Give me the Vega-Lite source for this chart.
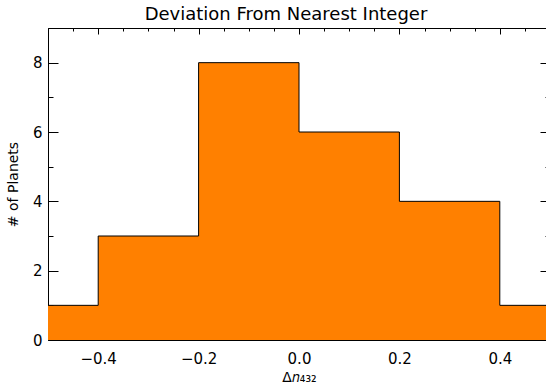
{
  "$schema": "https://vega.github.io/schema/vega-lite/v6.json",
  "autosize": "none",
  "padding": {"left": 48, "top": 28, "right": 0, "bottom": 50},
  "width": 502,
  "height": 312,
  "background": "white",
  "config": {
    "view": {"stroke": null},
    "font": "DejaVu Sans",
    "axis": {
      "domainColor": "black",
      "tickColor": "black",
      "labelColor": "black",
      "titleColor": "black",
      "labelFont": "DejaVu Sans",
      "titleFont": "DejaVu Sans",
      "labelFontSize": 15,
      "titleFontSize": 14,
      "titleFontWeight": "normal",
      "grid": false
    }
  },
  "title": {
    "text": "Deviation From Nearest Integer",
    "fontSize": 18,
    "fontWeight": "normal",
    "font": "DejaVu Sans",
    "color": "black",
    "offset": 4,
    "dx": -13
  },
  "data": {
    "values": [
      {"x": -0.5, "count": 1},
      {"x": -0.4, "count": 3},
      {"x": -0.2, "count": 8},
      {"x": 0.0, "count": 6},
      {"x": 0.2, "count": 4},
      {"x": 0.4, "count": 1},
      {"x": 0.5, "count": 1}
    ]
  },
  "layer": [
    {
      "mark": {"type": "area", "interpolate": "step-after", "color": "#FF8000"},
      "encoding": {
        "x": {
          "field": "x", "type": "quantitative",
          "scale": {"domain": [-0.5, 0.5], "nice": false, "zero": false},
          "axis": {
            "orient": "bottom",
            "title": "Δ𝑛₄₃₂",
            "titlePadding": 4,
            "values": [-0.5,-0.45,-0.4,-0.35,-0.3,-0.25,-0.2,-0.15,-0.1,-0.05,0,0.05,0.1,0.15,0.2,0.25,0.3,0.35,0.4,0.45,0.5],
            "labelExpr": "abs(datum.value*5 - round(datum.value*5)) < 0.001 && abs(datum.value) < 0.45 ? format(datum.value, '.1f') : ''",
            "labelFlush": false,
            "labelPadding": 17,
            "tickSize": {"condition": {"test": "abs(datum.value*5 - round(datum.value*5)) < 0.001", "value": -6}, "value": -3}
          }
        },
        "y": {
          "field": "count", "type": "quantitative",
          "scale": {"domain": [0, 9], "nice": false},
          "axis": {
            "orient": "left",
            "title": "# of Planets",
            "titlePadding": 12,
            "values": [0,1,2,3,4,5,6,7,8,9],
            "labelExpr": "datum.value % 2 == 0 ? datum.label : ''",
            "labelFlush": false,
            "labelPadding": 16,
            "tickSize": {"condition": {"test": "datum.value % 2 == 0", "value": -10}, "value": -5}
          }
        }
      }
    },
    {
      "mark": {"type": "line", "interpolate": "step-after", "color": "black", "strokeWidth": 1},
      "encoding": {
        "x": {
          "field": "x", "type": "quantitative",
          "scale": {"domain": [-0.5, 0.5], "nice": false, "zero": false},
          "axis": {
            "orient": "top",
            "title": null,
            "labels": false,
            "values": [-0.5,-0.45,-0.4,-0.35,-0.3,-0.25,-0.2,-0.15,-0.1,-0.05,0,0.05,0.1,0.15,0.2,0.25,0.3,0.35,0.4,0.45,0.5],
            "tickSize": {"condition": {"test": "abs(datum.value*5 - round(datum.value*5)) < 0.001", "value": -6}, "value": -3}
          }
        },
        "y": {
          "field": "count", "type": "quantitative",
          "scale": {"domain": [0, 9], "nice": false},
          "axis": {
            "orient": "right",
            "title": null,
            "labels": false,
            "values": [0,1,2,3,4,5,6,7,8,9],
            "tickSize": {"condition": {"test": "datum.value % 2 == 0", "value": -10}, "value": -5}
          }
        }
      }
    }
  ],
  "resolve": {"scale": {"x": "independent", "y": "independent"}}
}
